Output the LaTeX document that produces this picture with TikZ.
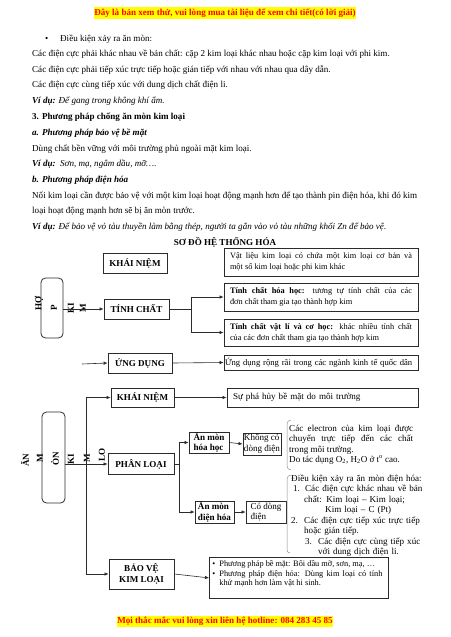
\documentclass[tikz,border=0pt]{standalone}
\usepackage{fontspec}
\setmainfont{Liberation Serif}
\usetikzlibrary{arrows.meta}
\hyphenpenalty=10000
\exhyphenpenalty=10000
\newcommand\ftw{\fontsize{9.07pt}{10.5pt}\selectfont}
\newcommand\fel{\fontsize{8.32pt}{11pt}\selectfont}
\newcommand\fsm{\fontsize{8.32pt}{9.7pt}\selectfont}
\newcommand\fud{\fontsize{8.6pt}{10pt}\selectfont}
\definecolor{hlyellow}{HTML}{FFFF00}
\definecolor{hlred}{HTML}{FF0000}
\definecolor{boxline}{HTML}{2B2B2B}
\tikzset{
  txt/.style={anchor=base west, inner sep=0pt, font=\ftw},
  hl/.style={fill=hlyellow, text=hlred, font=\ftw\bfseries, inner xsep=0.5pt, inner ysep=1.2pt},
  box/.style={draw=boxline, line width=0.8pt, font=\ftw\bfseries, inner sep=0pt, align=center},
  rbox/.style={box, rounded corners=4.5pt},
  sbox/.style={box, align=left, inner xsep=1pt, font=\ftw},
  vtxt/.style={rotate=90, inner sep=0pt, font=\ftw\bfseries},
  tbox/.style={draw=boxline, line width=0.8pt, font=\fel, inner xsep=6pt, inner ysep=0pt,
               text width=182pt, align=justify},
  arr/.style={-{Latex[length=4pt,width=3.5pt]}, line width=0.6pt, draw=boxline},
  brk/.style={draw=black!45, line width=0.5pt},
}
\begin{document}
\begin{tikzpicture}[x=1pt,y=-1pt]
\useasboundingbox (0,0) rectangle (450,637);
% page text above the chart
\node[hl] (top) at (225,13) {Đây là bản xem thử, vui lòng mua tài liệu để xem chi tiết(có lời giải)};
\node[txt] (bul) at (45,41) {\textbullet};
\node[txt] (l0) at (60,41) {Điều kiện xảy ra ăn mòn:};
\node[txt] (l1) at (32,56) {Các điện cực phải khác nhau về bản chất: cặp 2 kim loại khác nhau hoặc cặp kim loại với phi kim.};
\node[txt] (l2) at (32,72) {Các điện cực phải tiếp xúc trực tiếp hoặc gián tiếp với nhau với nhau qua dây dẫn.};
\node[txt] (l3) at (32,87) {Các điện cực cùng tiếp xúc với dung dịch chất điện li.};
\node[txt] (l4) at (32,103) {\textbf{\textit{Ví dụ:}} \textit{Để gang trong không khí ẩm.}};
\node[txt] (l5) at (32,119) {\textbf{3. Phương pháp chống ăn mòn kim loại}};
\node[txt] (l6) at (32,135) {\textbf{\textit{a. Phương pháp bảo vệ bề mặt}}};
\node[txt] (l7) at (32,151) {Dùng chất bền vững với môi trường phủ ngoài mặt kim loại.};
\node[txt] (l8) at (32,166) {\textbf{\textit{Ví dụ:}}\ \ \textit{Sơn, mạ, ngâm dầu, mỡ….}};
\node[txt] (l9) at (32,182) {\textbf{\textit{b. Phương pháp điện hóa}}};
\node[txt] (l10) at (32,198) {\makebox[385pt][s]{Nối kim loại cần được bảo vệ với một kim loại hoạt động mạnh hơn để tạo thành pin điện hóa, khi đó kim}};
\node[txt] (l11) at (32,213) {loại hoạt động mạnh hơn sẽ bị ăn mòn trước.};
\node[txt] (l12) at (32,229) {\textbf{\textit{Ví dụ:}} \textit{Để bảo vệ vỏ tàu thuyền làm bằng thép, người ta gắn vào vỏ tàu những khối Zn để bảo vệ.}};
\node[txt, anchor=base] (title) at (225,245) {\textbf{SƠ ĐỒ HỆ THỐNG HÓA}};
% hop kim
\node[box, minimum width=64pt, minimum height=20pt] (kn1) at (135,263) {KHÁI NIỆM};
\node[tbox, minimum height=28pt] (vl) at (321,262) {Vật liệu kim loại có chứa một kim loại cơ bản và\linebreak một số kim loại hoặc phi kim khác};
\node[rbox, minimum width=22pt, minimum height=60pt] (hop) at (52,308) {};
\node[vtxt] (hop1) at (39,303) {HỢ};
\node[vtxt] (hop2) at (54,308) {P};
\node[vtxt] (hop3) at (71,308) {KI};
\node[vtxt] (hop4) at (83,308) {M};
\node[box, minimum width=65pt, minimum height=20pt] (tc) at (136.5,309) {TÍNH CHẤT};
\node[tbox, minimum height=28pt] (tchh) at (321,297) {\textbf{Tính chất hóa học:} tương tự tính chất của các\linebreak đơn chất tham gia tạo thành hợp kim};
\node[tbox, minimum height=27pt] (tcvl) at (321,332.5) {\textbf{Tính chất vật lí và cơ học:} khác nhiều tính chất\linebreak của các đơn chất tham gia tạo thành hợp kim};
\coordinate (udin) at (82,364);
\node[box, minimum width=64pt, minimum height=20pt] (ud) at (140,363) {ỨNG DỤNG};
\node[tbox, font=\fud, inner xsep=1pt, text width=192pt, align=left, minimum height=15pt] (udt) at (321,362.5) {Ứng dụng rộng rãi trong các ngành kinh tế quốc dân};
\draw[arr] (hop.east |- tc.west) -- (tc.west);
\draw[arr] (tc.east) -- ++(22,0) |- (tchh.west);
\draw[arr] (tc.east) -- ++(22,0) |- (tcvl.west);
\draw[arr] (udin) -- (ud.west);
\draw[arr] (ud.east) -- (udt.west);
% an mon kim loai
\node[box, minimum width=63pt, minimum height=19pt] (kn2) at (142.5,397.5) {KHÁI NIỆM};
\node[tbox, font=\ftw, text width=179pt, align=left, minimum height=19pt] (sph) at (322.5,397.5) {Sự phá hủy bề mặt do môi trường};
\node[rbox, minimum width=23pt, minimum height=91pt] (amon) at (53.5,457.5) {};
\node[vtxt] (am1) at (25,460) {ĂN};
\node[vtxt] (am2) at (40,458) {M};
\node[vtxt] (am3) at (55,459) {ÒN};
\node[vtxt] (am4) at (71,459) {KI};
\node[vtxt] (am5) at (87,458) {M};
\node[vtxt] (am6) at (102,455) {LO};
\node[box, minimum width=66pt, minimum height=21pt] (pl) at (141,464) {PHÂN LOẠI};
\node[sbox, font=\ftw\bfseries, minimum width=40pt, minimum height=21pt] (hh) at (209,442.5) {Ăn mòn\\hóa học};
\node[sbox, minimum width=38pt, minimum height=22pt] (kcd) at (262,444) {Không có\\dòng điện};
\node[sbox, font=\ftw\bfseries, minimum width=39pt, minimum height=22pt] (dh) at (214.5,512) {Ăn mòn\\điện hóa};
\node[sbox, minimum width=40pt, minimum height=22pt] (cdd) at (266,512) {Có dòng\\điện};
\node[txt, text width=124pt, align=justify] (elec) at (289,431) {Các electron của kim loại được\linebreak chuyển trực tiếp đến các chất\linebreak trong môi trường.\newline Do tác dụng O\textsubscript{2}, H\textsubscript{2}O ở t\textsuperscript{o} cao.};
\node[txt, text width=140pt, align=left] (dk) at (291,481) {Điều kiện xảy ra ăn mòn điện hóa:\\
  \hspace*{2pt}\makebox[12pt][l]{1.}\makebox[125pt][s]{Các điện cực khác nhau về bản}\\
  \hspace*{13pt}chất: Kim loại – Kim loại;\\
  \hspace*{34pt}Kim loại – C (Pt)\\
  \makebox[13pt][l]{2.}\makebox[126pt][s]{Các điện cực tiếp xúc trực tiếp}\\
  \hspace*{13pt}hoặc gián tiếp.\\
  \hspace*{14pt}\makebox[13pt][l]{3.}\makebox[112pt][s]{Các điện cực cùng tiếp xúc}\\
  \hspace*{27pt}với dung dịch điện li.};
\draw[brk] (291,420) to[out=180,in=90] (287,424) -- (287,466) to[out=-90,in=180] (291,470);
\draw[brk] (291,475) to[out=180,in=90] (287,479) -- (287,550) to[out=-90,in=180] (290,553);
\node[box, minimum width=65pt, minimum height=30pt] (bv) at (141.5,574) {BẢO VỆ\\KIM LOẠI};
\node[draw=boxline, line width=0.8pt, inner xsep=3pt, inner ysep=3pt, anchor=north west, font=\fsm] (bvt) at (209,557)
  {\parbox[t][35pt][t]{173pt}{\makebox[7pt][l]{\textbullet}Phương pháp bề mặt: Bôi dầu mỡ, sơn, mạ, …\\
   \makebox[7pt][l]{\textbullet}\makebox[163pt][s]{Phương pháp điện hóa: Dùng kim loại có tính}\\
   \hspace*{7pt}khử mạnh hơn làm vật hi sinh.}};
\coordinate (spine) at (86,480);
\draw[arr] (spine) |- (kn2.west);
\draw[arr] (spine) |- (bv.west);
\draw[arr] (amon.east |- pl.west) -- (pl.west);
\draw[arr] (kn2.east) -- (sph.west);
\draw[arr] (pl.east) -- ++(5,0) |- (hh.west);
\draw[arr] (pl.east) -- ++(5,0) |- (dh.west);
\draw[arr] (hh.east) -- (kcd.west);
\draw[arr] (dh.east) -- (cdd.west);
\draw[arr] (bv.east) -- (bvt.west);
% footer
\node[hl] (foot) at (225,621) {Mọi thắc mắc vui lòng xin liên hệ hotline: 084 283 45 85};
\end{tikzpicture}
\end{document}
